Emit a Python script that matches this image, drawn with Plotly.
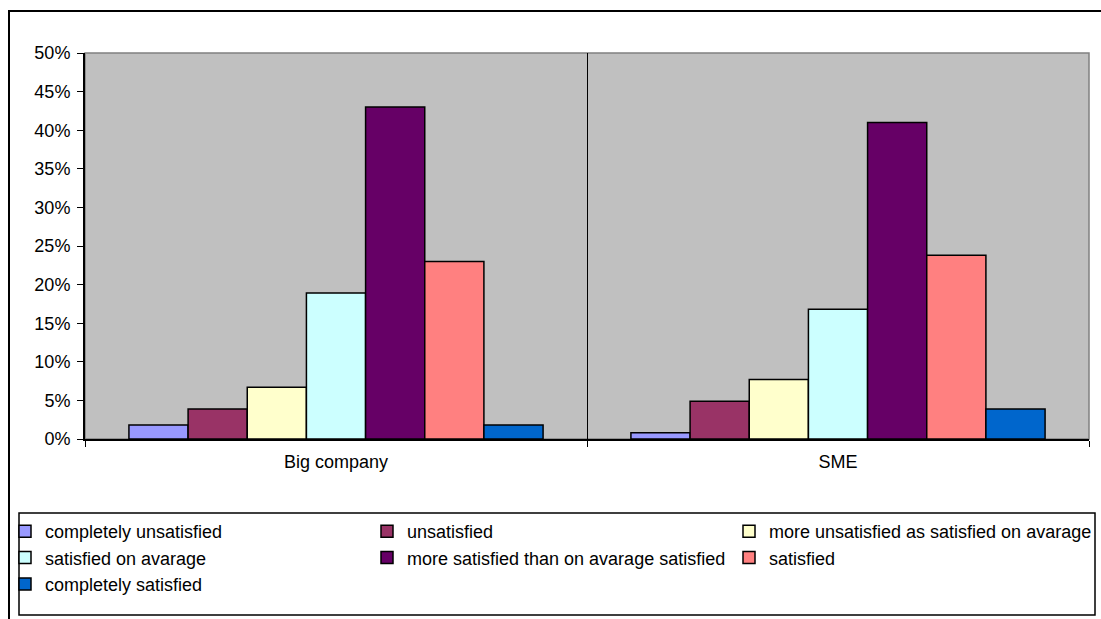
import plotly.graph_objects as go

categories = ["Big company", "SME"]
series_names = [
    "completely unsatisfied",
    "unsatisfied",
    "more unsatisfied as satisfied on avarage",
    "satisfied on avarage",
    "more satisfied than on avarage satisfied",
    "satisfied",
    "completely satisfied",
]
big_company = [1.8, 3.9, 6.7, 18.9, 43.0, 23.0, 1.8]
sme = [0.8, 4.9, 7.7, 16.8, 41.0, 23.8, 3.9]
colors = ["#9999FF", "#993366", "#FFFFCC", "#CCFFFF", "#660066", "#FF8080", "#0066CC"]
y_ticks = list(range(0, 51, 5))

W, H = 1101, 619
L, R, T, B = 85, 12, 53, 180
pw, ph = W - L - R, H - T - B

def px(x):
    return (x - L) / pw

def py(y):
    return (H - B - y) / ph

FONT = "Liberation Sans, Arial, sans-serif"
FS = 18

fig = go.Figure()
for i, name in enumerate(series_names):
    fig.add_trace(go.Bar(
        name=name,
        x=categories,
        y=[big_company[i], sme[i]],
        marker=dict(color=colors[i], line=dict(color="black", width=1.5)),
    ))

fig.update_layout(
    width=W, height=H,
    margin=dict(l=L, r=R, t=T, b=B, pad=0, autoexpand=False),
    paper_bgcolor="white",
    plot_bgcolor="#C0C0C0",
    barmode="group",
    bargap=0.175,
    bargroupgap=0,
    font=dict(family=FONT, size=FS, color="black"),
    showlegend=True,
    legend=dict(
        orientation="h",
        x=px(5), xanchor="left",
        y=py(513), yanchor="top",
        entrywidth=317, entrywidthmode="pixels",
        bgcolor="rgba(0,0,0,0)",
        borderwidth=0,
        font=dict(family=FONT, size=FS, color="black"),
        traceorder="normal",
    ),
    xaxis=dict(
        type="category",
        tickson="boundaries",
        ticks="outside", ticklen=6, tickcolor="black", tickwidth=1,
        showline=True, linecolor="black", linewidth=2,
        showgrid=True, gridcolor="black", gridwidth=1,
        tickfont=dict(family=FONT, size=FS, color="black"),
        ticklabelstandoff=5,
        fixedrange=True,
    ),
    yaxis=dict(
        range=[0, 50],
        tickvals=y_ticks,
        ticktext=[f"{v}%" for v in y_ticks],
        ticks="outside", ticklen=6, tickcolor="black", tickwidth=1,
        showline=True, linecolor="black", linewidth=2,
        showgrid=False, zeroline=False,
        tickfont=dict(family=FONT, size=FS, color="black"),
        ticklabelstandoff=3,
        fixedrange=True,
    ),
    shapes=[
        # plot area gray border (top / right)
        dict(type="rect", xref="paper", yref="paper", x0=0, x1=1, y0=0, y1=1,
             line=dict(color="#808080", width=1.5), fillcolor="rgba(0,0,0,0)", layer="below"),
        # outer chart border
        dict(type="rect", xref="paper", yref="paper",
             x0=px(9), x1=px(1110), y0=py(630), y1=py(11),
             line=dict(color="black", width=2), fillcolor="rgba(0,0,0,0)", layer="above"),
        # legend box
        dict(type="rect", xref="paper", yref="paper",
             x0=px(19), x1=px(1095), y0=py(615), y1=py(513),
             line=dict(color="black", width=1.5), fillcolor="rgba(0,0,0,0)", layer="above"),
    ],
)

fig.write_html("out.html", config={"displayModeBar": False})
